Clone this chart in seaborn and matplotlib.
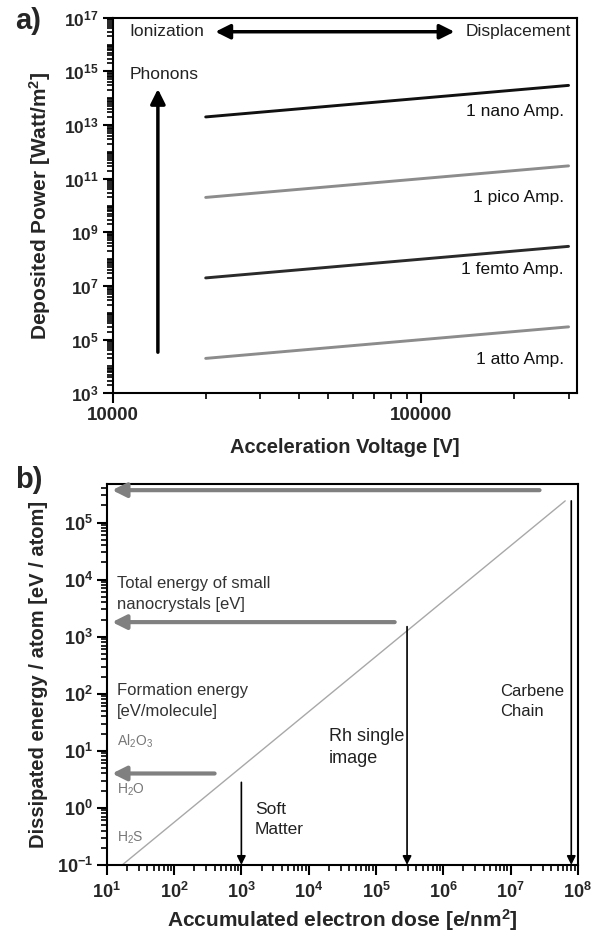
import numpy as np
import pandas as pd
import matplotlib
matplotlib.use("Agg")
import matplotlib.pyplot as plt
from matplotlib.ticker import LogLocator, FixedLocator, FixedFormatter, NullFormatter
import seaborn as sns

# ---- panel a data: deposited power vs. acceleration voltage ----
voltage = [20000, 300000]
power_nano = [2e13, 3e14]
power_pico = [2e10, 3e11]
power_femto = [2e7, 3e8]
power_atto = [2e4, 3e5]
current_names = ["1 nano Amp.", "1 pico Amp.", "1 femto Amp.", "1 atto Amp."]
current_label_y = [3.2e13, 2.0e10, 4.0e7, 1.8e4]
a_ytick_vals = [1e3, 1e5, 1e7, 1e9, 1e11, 1e13, 1e15, 1e17]
a_ytick_labels = ["3", "5", "7", "9", "11", "13", "15", "17"]
a_xtick_vals = [10000, 100000]
a_xtick_labels = ["10000", "100000"]

# ---- panel b data: dissipated energy vs. accumulated dose ----
dose_line = [17, 6.5e7]
energy_line = [0.1, 2.4e5]
level_energy = [3.7e5, 1.8e3, 4.0]      # horizontal thresholds (gray arrows)
level_tail_dose = [2.7e7, 1.9e5, 400]
dose_marks = [1e3, 2.9e5, 8e7]          # vertical dose markers
dose_mark_top = [2.8, 1.5e3, 2.4e5]
b_ytick_exp = [-1, 0, 1, 2, 3, 4, 5]
b_xtick_exp = [1, 2, 3, 4, 5, 6, 7, 8]

sns.set_theme(style="ticks")
plt.rcParams["font.family"] = ["Liberation Sans", "DejaVu Sans"]
plt.rcParams["mathtext.fontset"] = "custom"
plt.rcParams["mathtext.rm"] = "Liberation Sans"
plt.rcParams["mathtext.bf"] = "Liberation Sans:bold"
plt.rcParams["axes.linewidth"] = 1.5
plt.rcParams["axes.unicode_minus"] = False

fig = plt.figure(figsize=(6.0, 9.32), dpi=100)
ax_a = fig.add_axes([0.188, 0.578, 0.774, 0.403])
ax_b = fig.add_axes([0.178, 0.072, 0.785, 0.409])

# ---------------- panel a ----------------
df_a = pd.DataFrame({
    "voltage": voltage * 4,
    "power": power_nano + power_pico + power_femto + power_atto,
    "current": sum([[n] * 2 for n in current_names], []),
})
palette_a = {"1 nano Amp.": "#111111", "1 pico Amp.": "#8c8c8c",
             "1 femto Amp.": "#2a2a2a", "1 atto Amp.": "#8c8c8c"}
sns.lineplot(data=df_a, x="voltage", y="power", hue="current", palette=palette_a,
             linewidth=2.1, legend=False, ax=ax_a)
ax_a.set_xscale("log")
ax_a.set_yscale("log")
ax_a.set_xlim(10000, 320000)
ax_a.set_ylim(1e3, 1e17)

for name, ly in zip(current_names, current_label_y):
    ax_a.text(290000, ly, name, ha="right", va="center", fontsize=12.5, color="#111111")

ax_a.text(11300, 3e16, "Ionization", ha="left", va="center", fontsize=12.5, color="#222222")
ax_a.text(305000, 3e16, "Displacement", ha="right", va="center", fontsize=12.5,
          color="#222222")
ax_a.annotate("", xy=(128000, 3e16), xytext=(21500, 3e16),
              arrowprops=dict(arrowstyle="<|-|>", color="black", lw=2.5,
                              mutation_scale=22, shrinkA=0, shrinkB=0))
ax_a.text(11300, 7.4e14, "Phonons", ha="left", va="center", fontsize=12.5, color="#222222")
ax_a.annotate("", xy=(14000, 2.2e14), xytext=(14000, 3.4e4),
              arrowprops=dict(arrowstyle="-|>", color="black", lw=2.5,
                              mutation_scale=22, shrinkA=0, shrinkB=0))

ax_a.yaxis.set_major_locator(FixedLocator(a_ytick_vals))
ax_a.yaxis.set_major_formatter(FixedFormatter(
    [r"$\mathbf{10^{%s}}$" % e for e in a_ytick_labels]))
ax_a.yaxis.set_minor_locator(LogLocator(base=10, subs=np.arange(1, 10), numticks=40))
ax_a.yaxis.set_minor_formatter(NullFormatter())
ax_a.xaxis.set_major_locator(FixedLocator(a_xtick_vals))
ax_a.xaxis.set_major_formatter(FixedFormatter(a_xtick_labels))
ax_a.xaxis.set_minor_locator(LogLocator(base=10, subs=np.arange(2, 10), numticks=20))
ax_a.xaxis.set_minor_formatter(NullFormatter())
ax_a.tick_params(axis="both", which="major", direction="out", length=7, width=1.5,
                 color="black", labelsize=12.5, pad=3)
ax_a.tick_params(axis="both", which="minor", direction="out", length=4, width=1.2,
                 color="black")
for lab in ax_a.get_xticklabels():
    lab.set_fontweight("bold")
    lab.set_fontsize(13.5)
ax_a.set_xlabel("Acceleration Voltage [V]", fontsize=14.5, fontweight="bold", labelpad=10)
ax_a.set_ylabel(r"Deposited Power [Watt/m$\mathbf{^2}$]", fontsize=15, fontweight="bold",
                labelpad=8)
for s in ax_a.spines.values():
    s.set_visible(True)
    s.set_color("black")
    s.set_linewidth(1.5)

# ---------------- panel b ----------------
df_b = pd.DataFrame({"dose": dose_line, "energy": energy_line})
sns.lineplot(data=df_b, x="dose", y="energy", color="#a8a8a8", linewidth=1.0, ax=ax_b)
ax_b.set_xscale("log")
ax_b.set_yscale("log")
ax_b.set_xlim(10, 1e8)
ax_b.set_ylim(0.1, 4.8e5)

for lvl, tail in zip(level_energy, level_tail_dose):
    ax_b.annotate("", xy=(12, lvl), xytext=(tail, lvl),
                  arrowprops=dict(arrowstyle="-|>", color="#808080", lw=3.0,
                                  mutation_scale=21, shrinkA=0, shrinkB=0))
for d, top in zip(dose_marks, dose_mark_top):
    ax_b.annotate("", xy=(d, 0.1), xytext=(d, top),
                  arrowprops=dict(arrowstyle="-|>", color="black", lw=1.2,
                                  mutation_scale=13, shrinkA=0, shrinkB=0))

ax_b.text(14, 5.6e3, "Total energy of small\nnanocrystals [eV]", ha="left", va="center",
          fontsize=12, color="#333333", linespacing=1.5)
ax_b.text(14, 76, "Formation energy\n[eV/molecule]", ha="left", va="center",
          fontsize=12, color="#333333", linespacing=1.5)
ax_b.text(14, 14.5, r"Al$_2$O$_3$", ha="left", va="center", fontsize=10, color="#777777")
ax_b.text(14, 2.1, r"H$_2$O", ha="left", va="center", fontsize=10, color="#777777")
ax_b.text(14, 0.3, r"H$_2$S", ha="left", va="center", fontsize=10, color="#777777")
ax_b.text(2.0e4, 11.5, "Rh single\nimage", ha="left", va="center", fontsize=13,
          color="#222222", linespacing=1.4)
ax_b.text(1.6e3, 0.62, "Soft\nMatter", ha="left", va="center", fontsize=12.5,
          color="#222222", linespacing=1.4)
ax_b.text(7.0e6, 72, "Carbene\nChain", ha="left", va="center", fontsize=12,
          color="#222222", linespacing=1.4)

ax_b.yaxis.set_major_locator(FixedLocator([10.0 ** e for e in b_ytick_exp]))
ax_b.yaxis.set_major_formatter(FixedFormatter(
    [r"$\mathbf{10^{%d}}$" % e for e in b_ytick_exp]))
ax_b.yaxis.set_minor_locator(LogLocator(base=10, subs=np.arange(2, 10), numticks=20))
ax_b.yaxis.set_minor_formatter(NullFormatter())
ax_b.xaxis.set_major_locator(FixedLocator([10.0 ** e for e in b_xtick_exp]))
ax_b.xaxis.set_major_formatter(FixedFormatter(
    [r"$\mathbf{10^{%d}}$" % e for e in b_xtick_exp]))
ax_b.xaxis.set_minor_locator(LogLocator(base=10, subs=np.arange(2, 10), numticks=20))
ax_b.xaxis.set_minor_formatter(NullFormatter())
ax_b.tick_params(axis="both", which="major", direction="out", length=7, width=1.5,
                 color="black", labelsize=13, pad=3)
ax_b.tick_params(axis="x", which="major", pad=5)
ax_b.tick_params(axis="both", which="minor", direction="out", length=4, width=1.2,
                 color="black")
ax_b.set_xlabel(r"Accumulated electron dose [e/nm$\mathbf{^2}$]", fontsize=15,
                fontweight="bold", labelpad=4)
ax_b.set_ylabel("Dissipated energy / atom [eV / atom]", fontsize=14.5, fontweight="bold",
                labelpad=6)
for s in ax_b.spines.values():
    s.set_visible(True)
    s.set_color("black")
    s.set_linewidth(1.5)

fig.text(0.025, 0.978, "a)", fontsize=21, fontweight="bold", va="center", ha="left")
fig.text(0.025, 0.485, "b)", fontsize=21, fontweight="bold", va="center", ha="left")

fig.savefig("out.png", dpi=100)
